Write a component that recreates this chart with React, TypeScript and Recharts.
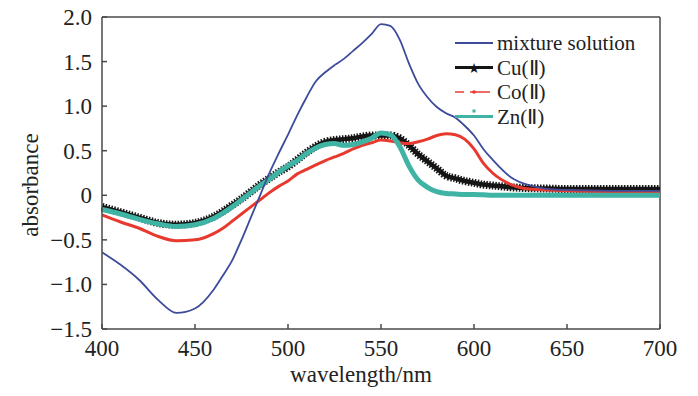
import { LineChart, Line, XAxis, YAxis, ReferenceLine, Label } from 'recharts';

const FONT = '"Liberation Serif", "Times New Roman", serif';
const BLUE = '#3d4b9b';
const BLACK = '#151515';
const RED = '#e8392e';
const TEAL = '#3fb3a4';
const AXIS = '#4a4a4a';

const wavelengths = [
  400, 410, 420, 430, 440, 450, 460, 465, 470, 475, 480, 485, 490, 495, 500, 505, 510, 515, 520, 525, 530,
  535, 540, 545, 550, 555, 560, 565, 570, 575, 580, 585, 590, 595, 600, 605, 610, 620, 630, 640, 650, 660,
  680, 700,
];

const mixture = [
  -0.64, -0.78, -0.95, -1.17, -1.32, -1.27, -1.06, -0.9, -0.73, -0.5, -0.25, 0.0, 0.25, 0.47, 0.68, 0.9,
  1.1, 1.28, 1.38, 1.46, 1.53, 1.62, 1.71, 1.81, 1.92, 1.9, 1.75, 1.48, 1.25, 1.1, 0.99, 0.92, 0.87, 0.78,
  0.67, 0.52, 0.4, 0.2, 0.11, 0.07, 0.06, 0.055, 0.05, 0.05,
];

const cu = [
  -0.13, -0.19, -0.25, -0.31, -0.33, -0.31, -0.24, -0.18, -0.11, -0.04, 0.04, 0.12, 0.19, 0.26, 0.32, 0.4,
  0.48, 0.55, 0.6, 0.62, 0.63, 0.64, 0.66, 0.67, 0.67, 0.67, 0.64, 0.56, 0.46, 0.38, 0.3, 0.22, 0.19, 0.16,
  0.14, 0.12, 0.11, 0.09, 0.08, 0.075, 0.07, 0.07, 0.07, 0.07,
];

const co = [
  -0.22, -0.3, -0.37, -0.46, -0.51, -0.5, -0.43, -0.37, -0.29, -0.21, -0.13, -0.05, 0.03, 0.1, 0.16, 0.24,
  0.29, 0.34, 0.39, 0.43, 0.47, 0.52, 0.56, 0.59, 0.62, 0.61, 0.59, 0.58, 0.6, 0.63, 0.67, 0.69, 0.68, 0.63,
  0.52, 0.36, 0.25, 0.12, 0.07, 0.06, 0.05, 0.045, 0.04, 0.03,
];

const zn = [
  -0.16, -0.21, -0.27, -0.32, -0.35, -0.33, -0.26, -0.2, -0.13, -0.05, 0.03, 0.11, 0.18, 0.26, 0.33, 0.39,
  0.47, 0.53, 0.57, 0.58, 0.56, 0.57, 0.6, 0.64, 0.7, 0.68, 0.55, 0.33, 0.17, 0.09, 0.04, 0.02, 0.015, 0.01,
  0.01, 0.005, 0, 0, 0, 0, 0, 0, 0, 0,
];

const xTicks = [400, 450, 500, 550, 600, 650, 700];
const yTicks = [-1.5, -1, -0.5, 0, 0.5, 1, 1.5, 2];
const legendNames = ['mixture solution', 'Cu(\u2161)', 'Co(\u2161)', 'Zn(\u2161)'];

const data = wavelengths.map((w, i) => ({ w, mixture: mixture[i], cu: cu[i], co: co[i], zn: zn[i] }));

const fmtY = (v: number) => (v === 0 ? '0' : (v < 0 ? '\u2212' : '') + Math.abs(v).toFixed(1));

function XTick({ x, y, payload }: any) {
  return (
    <text x={x} y={y} dy={15} textAnchor="middle" fontSize={23} fill="#222" fontFamily={FONT}>
      {payload.value}
    </text>
  );
}

function YTick({ x, y, payload }: any) {
  return (
    <text x={x} y={y} dy={8} textAnchor="end" fontSize={23} fill="#222" fontFamily={FONT}>
      {fmtY(payload.value)}
    </text>
  );
}

function LegendBox() {
  const rowY = [13, 37.5, 62, 86.5];
  return (
    <svg width={230} height={100} style={{ position: 'absolute', left: 450, top: 30 }}>
      <line x1={5} x2={43} y1={rowY[0]} y2={rowY[0]} stroke={BLUE} strokeWidth={1.8} />
      <line x1={5} x2={43} y1={rowY[1]} y2={rowY[1]} stroke={BLACK} strokeWidth={3} />
      <text x={24} y={rowY[1] + 5} textAnchor="middle" fontSize={14} fill={BLACK} fontFamily="DejaVu Sans">
        ★
      </text>
      <line x1={5} x2={14} y1={rowY[2]} y2={rowY[2]} stroke={RED} strokeWidth={1.5} />
      <line x1={20} x2={40} y1={rowY[2]} y2={rowY[2]} stroke={RED} strokeWidth={1.5} />
      <circle cx={24} cy={rowY[2]} r={1.8} fill={RED} />
      <line x1={5} x2={43} y1={rowY[3]} y2={rowY[3]} stroke={TEAL} strokeWidth={3} />
      <rect x={22.5} y={rowY[3] - 7} width={3} height={3} fill={TEAL} />
      {legendNames.map((name, i) => (
        <text key={name} x={47} y={rowY[i] + 7} fontSize={21} fill="#222" fontFamily={FONT}>
          {name}
        </text>
      ))}
    </svg>
  );
}

export default function App() {
  return (
    <div style={{ position: 'absolute', left: 0, top: 0, width: 698, height: 396, background: '#fff', fontFamily: FONT }}>
      <LineChart width={698} height={396} data={data} margin={{ top: 17, right: 38, left: 0, bottom: 0 }}>
        <XAxis
          dataKey="w"
          type="number"
          domain={[400, 700]}
          ticks={xTicks}
          interval={0}
          height={67}
          tickSize={-5}
          tickMargin={17}
          stroke={AXIS}
          strokeWidth={1.5}
          tick={<XTick />}
        >
          <Label
            content={() => (
              <text x={361} y={382} textAnchor="middle" fontSize={23} fill="#222" fontFamily={FONT}>
                wavelength/nm
              </text>
            )}
          />
        </XAxis>
        <YAxis
          type="number"
          domain={[-1.5, 2]}
          ticks={yTicks}
          interval={0}
          width={102}
          tickSize={-5}
          tickMargin={15}
          stroke={AXIS}
          strokeWidth={1.5}
          tick={<YTick />}
        >
          <Label
            content={() => (
              <text
                x={38}
                y={185}
                textAnchor="middle"
                fontSize={23}
                fill="#222"
                fontFamily={FONT}
                transform="rotate(-90 38 185)"
              >
                absorbance
              </text>
            )}
          />
        </YAxis>
        <ReferenceLine y={2} stroke={AXIS} strokeWidth={1.5} />
        <ReferenceLine x={700} stroke={AXIS} strokeWidth={1.5} />
        <Line
          type="monotone"
          dataKey="cu"
          stroke={BLACK}
          strokeWidth={8}
          strokeDasharray="1.5 1.5"
          dot={false}
          isAnimationActive={false}
        />
        <Line type="monotone" dataKey="cu" stroke={BLACK} strokeWidth={4.5} dot={false} isAnimationActive={false} />
        <Line type="monotone" dataKey="co" stroke={RED} strokeWidth={3} dot={false} isAnimationActive={false} />
        <Line type="monotone" dataKey="zn" stroke={TEAL} strokeWidth={5} dot={false} isAnimationActive={false} />
        <Line
          type="monotone"
          dataKey="mixture"
          stroke={BLUE}
          strokeWidth={1.8}
          dot={false}
          isAnimationActive={false}
        />
      </LineChart>
      <LegendBox />
    </div>
  );
}
